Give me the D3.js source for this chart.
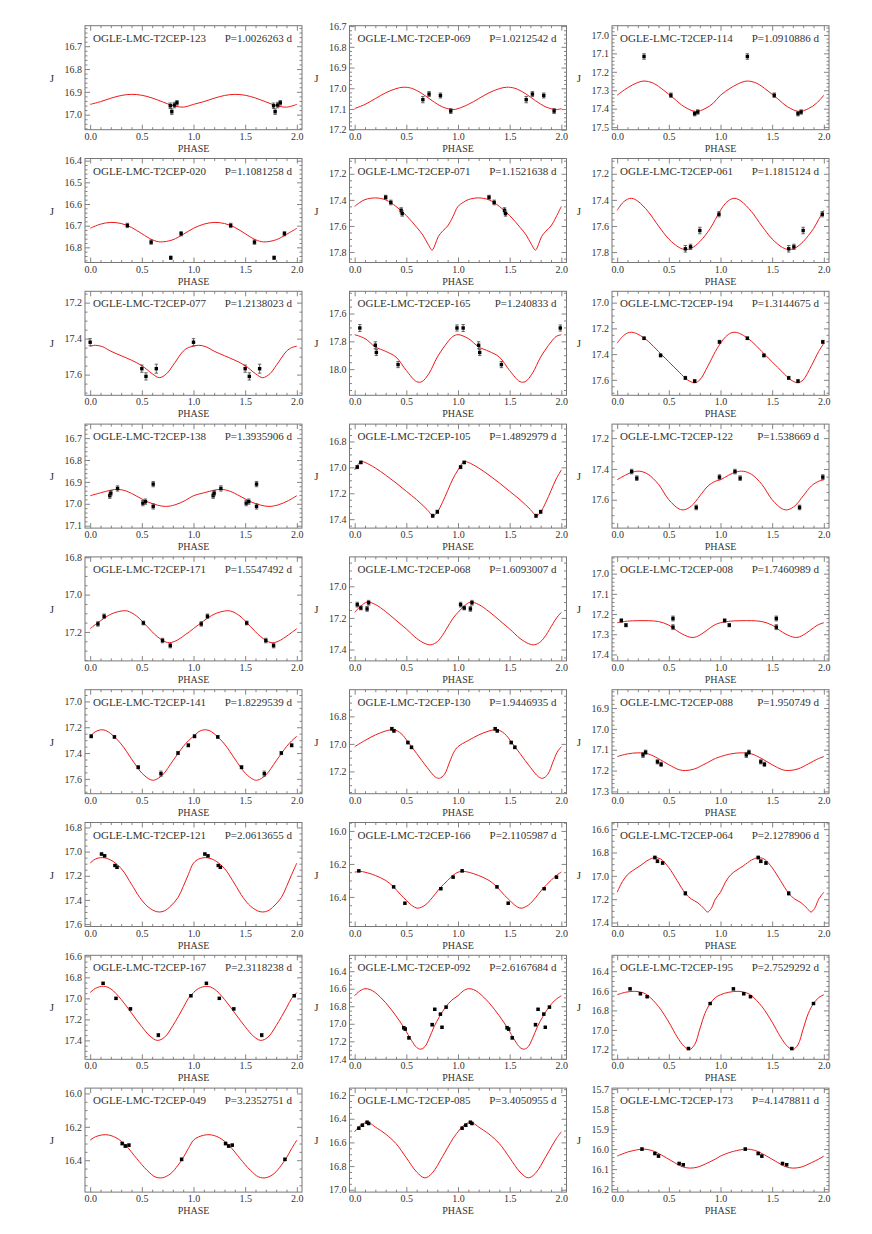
<!DOCTYPE html>
<html>
<head>
<meta charset="utf-8">
<script src="https://cdn.jsdelivr.net/npm/d3@7"></script>
<style>
body { margin: 0; background: #fff; }
svg { display: block; }
</style>
</head>
<body>
<svg width="872" height="1234"></svg>
<script>
// star ids, periods and the magnitude window of each panel (top = bright end)
const starIds = ["123","069","114","020","071","061","077","165","194","138","105","122","171","068","008",
  "141","130","088","121","166","064","167","092","195","049","085","173"];
const periods = ["1.0026263","1.0212542","1.0910886","1.1081258","1.1521638","1.1815124","1.2138023","1.240833",
  "1.3144675","1.3935906","1.4892979","1.538669","1.5547492","1.6093007","1.7460989","1.8229539","1.9446935",
  "1.950749","2.0613655","2.1105987","2.1278906","2.3118238","2.6167684","2.7529292","3.2352751","3.4050955","4.1478811"];
const magTop = [16.61,16.698,16.95,16.39,17.083,17.083,17.137,17.44,16.912,16.636,16.666,17.109,16.798,16.814,16.917,
  16.909,16.606,16.812,16.759,15.949,16.543,16.59,16.219,16.237,15.968,16.141,15.695];
const magBottom = [17.066,17.2,17.514,16.87,17.88,17.88,17.715,18.188,17.72,17.111,17.469,17.784,17.355,17.472,17.432,
  17.715,17.362,17.311,17.62,16.579,17.434,17.58,17.405,17.3,16.591,17.02,16.215];
const tickSteps = [0.1,0.1,0.1,0.1,0.2,0.2,0.2,0.2,0.2,0.1,0.2,0.2,0.2,0.2,0.1,0.2,0.2,0.1,0.2,0.2,0.2,0.2,0.2,0.2,0.2,0.2,0.1];

// fitted light curve, one cycle [phase, J]
const curveSamples = [
  [[0,16.955],[0.1,16.943],[0.2,16.928],[0.3,16.916],[0.4,16.911],[0.5,16.915],[0.6,16.927],[0.7,16.944],[0.8,16.96],[0.9,16.967]],
  [[0,17.098],[0.1,17.078],[0.2,17.05],[0.3,17.022],[0.4,17.002],[0.47,16.995],[0.55,17.0],[0.65,17.025],[0.75,17.06],[0.85,17.09],[0.95,17.103]],
  [[0,17.327],[0.1,17.287],[0.2,17.258],[0.26,17.25],[0.35,17.262],[0.45,17.3],[0.55,17.345],[0.65,17.39],[0.76,17.415],[0.85,17.4],[0.93,17.37]],
  [[0,16.712],[0.1,16.693],[0.2,16.685],[0.3,16.69],[0.4,16.708],[0.5,16.737],[0.6,16.765],[0.68,16.775],[0.8,16.765],[0.9,16.74]],
  [[0,17.45],[0.05,17.42],[0.1,17.398],[0.2,17.385],[0.3,17.4],[0.4,17.45],[0.5,17.52],[0.6,17.61],[0.66,17.67],[0.71,17.74],[0.75,17.785],[0.78,17.74],[0.81,17.68],[0.85,17.64],[0.9,17.6],[0.95,17.53]],
  [[0,17.48],[0.05,17.425],[0.1,17.395],[0.14,17.388],[0.2,17.41],[0.3,17.49],[0.4,17.6],[0.5,17.7],[0.6,17.765],[0.66,17.78],[0.72,17.77],[0.8,17.72],[0.9,17.62],[0.95,17.55]],
  [[0,17.442],[0.05,17.437],[0.12,17.445],[0.2,17.47],[0.3,17.495],[0.4,17.52],[0.5,17.55],[0.6,17.595],[0.67,17.617],[0.74,17.595],[0.8,17.55],[0.9,17.47],[0.95,17.45]],
  [[0,17.752],[0.1,17.78],[0.2,17.84],[0.3,17.872],[0.4,17.913],[0.5,18.01],[0.6,18.09],[0.65,18.09],[0.72,18.03],[0.8,17.913],[0.9,17.805],[0.95,17.765]],
  [[0,17.315],[0.05,17.265],[0.1,17.236],[0.14,17.23],[0.2,17.245],[0.3,17.3],[0.4,17.38],[0.5,17.46],[0.6,17.54],[0.68,17.6],[0.75,17.622],[0.8,17.6],[0.88,17.49],[0.95,17.38]],
  [[0,16.963],[0.1,16.95],[0.2,16.938],[0.27,16.934],[0.35,16.942],[0.45,16.965],[0.55,16.99],[0.65,17.006],[0.73,17.012],[0.82,17.005],[0.92,16.985]],
  [[0,17.02],[0.06,16.955],[0.1,16.962],[0.2,17.005],[0.3,17.06],[0.4,17.12],[0.5,17.185],[0.6,17.25],[0.7,17.325],[0.76,17.374],[0.8,17.345],[0.85,17.27],[0.9,17.18],[0.95,17.09]],
  [[0,17.47],[0.08,17.44],[0.15,17.42],[0.22,17.415],[0.3,17.435],[0.4,17.5],[0.5,17.6],[0.6,17.66],[0.65,17.665],[0.72,17.64],[0.8,17.575],[0.88,17.51],[0.95,17.48]],
  [[0,17.182],[0.1,17.14],[0.2,17.105],[0.3,17.088],[0.36,17.088],[0.45,17.115],[0.55,17.17],[0.65,17.225],[0.75,17.257],[0.82,17.25],[0.92,17.215]],
  [[0,17.165],[0.06,17.125],[0.12,17.1],[0.2,17.115],[0.3,17.16],[0.4,17.215],[0.5,17.27],[0.6,17.33],[0.68,17.362],[0.74,17.37],[0.8,17.35],[0.85,17.31],[0.92,17.235],[0.96,17.195]],
  [[0,17.243],[0.1,17.235],[0.2,17.233],[0.3,17.233],[0.4,17.237],[0.5,17.255],[0.6,17.29],[0.7,17.314],[0.75,17.315],[0.82,17.298],[0.9,17.268],[0.95,17.252]],
  [[0,17.27],[0.05,17.235],[0.1,17.22],[0.15,17.225],[0.2,17.25],[0.3,17.33],[0.4,17.445],[0.5,17.555],[0.58,17.605],[0.62,17.61],[0.7,17.57],[0.8,17.46],[0.9,17.35],[0.95,17.305]],
  [[0,17.02],[0.1,16.975],[0.2,16.935],[0.3,16.906],[0.38,16.897],[0.45,16.925],[0.52,16.99],[0.6,17.07],[0.7,17.17],[0.78,17.24],[0.82,17.25],[0.87,17.22],[0.92,17.13],[0.96,17.06]],
  [[0,17.133],[0.1,17.12],[0.2,17.115],[0.3,17.12],[0.4,17.143],[0.5,17.172],[0.6,17.196],[0.66,17.2],[0.75,17.192],[0.85,17.168],[0.95,17.142]],
  [[0,17.095],[0.05,17.062],[0.12,17.05],[0.2,17.07],[0.3,17.14],[0.4,17.27],[0.48,17.38],[0.55,17.45],[0.62,17.49],[0.67,17.5],[0.72,17.49],[0.78,17.45],[0.85,17.38],[0.9,17.29],[0.95,17.19]],
  [[0,16.25],[0.05,16.245],[0.1,16.25],[0.2,16.27],[0.3,16.3],[0.37,16.335],[0.45,16.39],[0.5,16.42],[0.55,16.45],[0.61,16.468],[0.68,16.45],[0.75,16.405],[0.82,16.35],[0.9,16.3],[0.95,16.27]],
  [[0,17.14],[0.05,17.05],[0.1,16.99],[0.15,16.955],[0.22,16.915],[0.3,16.865],[0.36,16.845],[0.42,16.855],[0.5,16.93],[0.58,17.04],[0.66,17.15],[0.72,17.2],[0.78,17.23],[0.84,17.28],[0.875,17.31],[0.91,17.28],[0.95,17.2]],
  [[0,16.945],[0.05,16.905],[0.13,16.885],[0.2,16.91],[0.3,17.01],[0.4,17.14],[0.5,17.27],[0.58,17.36],[0.65,17.4],[0.72,17.37],[0.8,17.26],[0.9,17.09],[0.95,17.0]],
  [[0,16.68],[0.05,16.625],[0.1,16.6],[0.15,16.61],[0.2,16.645],[0.3,16.76],[0.4,16.91],[0.48,17.05],[0.55,17.19],[0.6,17.27],[0.64,17.29],[0.68,17.26],[0.72,17.17],[0.77,17.03],[0.82,16.92],[0.88,16.81],[0.94,16.73]],
  [[0,16.64],[0.08,16.615],[0.17,16.605],[0.25,16.62],[0.3,16.65],[0.4,16.76],[0.5,16.92],[0.58,17.07],[0.65,17.17],[0.7,17.2],[0.75,17.15],[0.8,16.99],[0.85,16.83],[0.9,16.73],[0.95,16.67]],
  [[0,16.28],[0.05,16.26],[0.15,16.247],[0.25,16.265],[0.35,16.315],[0.45,16.39],[0.55,16.46],[0.63,16.5],[0.7,16.505],[0.78,16.48],[0.85,16.43],[0.9,16.385],[0.95,16.33]],
  [[0,16.51],[0.05,16.46],[0.1,16.435],[0.15,16.44],[0.2,16.47],[0.3,16.53],[0.4,16.61],[0.5,16.73],[0.6,16.85],[0.68,16.9],[0.75,16.86],[0.85,16.72],[0.95,16.57]],
  [[0,16.035],[0.1,16.015],[0.2,16.003],[0.25,16.0],[0.33,16.006],[0.43,16.03],[0.53,16.06],[0.63,16.088],[0.7,16.095],[0.78,16.09],[0.88,16.068],[0.95,16.05]]
];

// observations [phase, J, error]
const obsPoints = [
  [[0.775,16.961,0.012],[0.79,16.987,0.012],[0.815,16.958,0.012],[0.84,16.948,0.01]],
  [[0.66,17.055,0.015],[0.72,17.028,0.012],[0.83,17.035,0.012],[0.93,17.11,0.012]],
  [[0.26,17.117,0.015],[0.52,17.327,0.012],[0.75,17.427,0.012],[0.78,17.418,0.012]],
  [[0.36,16.699,0.01],[0.59,16.776,0.01],[0.78,16.848,0.008],[0.88,16.737,0.01]],
  [[0.3,17.38,0.015],[0.35,17.42,0.018],[0.45,17.48,0.02],[0.46,17.505,0.02]],
  [[0.66,17.775,0.025],[0.71,17.76,0.02],[0.8,17.635,0.025],[0.985,17.51,0.02]],
  [[0,17.42,0.02],[0.5,17.567,0.02],[0.54,17.61,0.02],[0.64,17.567,0.025]],
  [[0.05,17.704,0.025],[0.2,17.828,0.025],[0.21,17.88,0.022],[0.42,17.967,0.022],[0.99,17.704,0.022]],
  [[0.26,17.277,0.01],[0.42,17.41,0.012],[0.66,17.585,0.012],[0.75,17.61,0.012],[0.99,17.305,0.012]],
  [[0.19,16.963,0.012],[0.2,16.951,0.012],[0.265,16.93,0.012],[0.51,16.997,0.012],[0.535,16.99,0.012],[0.61,16.91,0.012],[0.61,17.012,0.012]],
  [[0.025,16.998,0.012],[0.06,16.962,0.01],[0.755,17.374,0.012],[0.8,17.343,0.012]],
  [[0.14,17.417,0.015],[0.19,17.46,0.015],[0.765,17.65,0.015],[0.99,17.453,0.015]],
  [[0.075,17.157,0.012],[0.135,17.116,0.012],[0.515,17.152,0.01],[0.7,17.246,0.012],[0.775,17.273,0.012]],
  [[0.025,17.116,0.015],[0.06,17.137,0.012],[0.12,17.143,0.015],[0.135,17.104,0.015]],
  [[0.04,17.232,0.008],[0.085,17.255,0.008],[0.54,17.222,0.012],[0.54,17.265,0.012]],
  [[0.01,17.27,0.012],[0.235,17.275,0.01],[0.465,17.51,0.012],[0.685,17.56,0.02],[0.85,17.4,0.012],[0.95,17.34,0.012]],
  [[0.36,16.89,0.01],[0.38,16.905,0.01],[0.515,16.99,0.01],[0.55,17.025,0.01]],
  [[0.25,17.125,0.012],[0.275,17.112,0.01],[0.39,17.158,0.01],[0.425,17.17,0.01]],
  [[0.11,17.02,0.008],[0.14,17.035,0.008],[0.24,17.115,0.008],[0.26,17.13,0.008]],
  [[0.04,16.242,0.006],[0.377,16.339,0.006],[0.486,16.438,0.006],[0.834,16.35,0.006],[0.953,16.28,0.006]],
  [[0.365,16.843,0.012],[0.39,16.875,0.012],[0.44,16.89,0.012],[0.66,17.15,0.015]],
  [[0.125,16.857,0.01],[0.25,17.0,0.01],[0.39,17.1,0.01],[0.66,17.35,0.015],[0.975,16.975,0.01]],
  [[0.475,17.045,0.015],[0.49,17.06,0.015],[0.525,17.16,0.015],[0.75,17.01,0.015],[0.775,16.835,0.012],[0.83,16.89,0.012],[0.845,17.04,0.012],[0.885,16.81,0.012]],
  [[0.125,16.58,0.01],[0.225,16.63,0.01],[0.29,16.66,0.01],[0.69,17.19,0.012],[0.9,16.73,0.01]],
  [[0.31,16.3,0.008],[0.34,16.315,0.008],[0.375,16.31,0.008],[0.885,16.395,0.008]],
  [[0.04,16.48,0.01],[0.075,16.455,0.01],[0.12,16.43,0.01],[0.135,16.44,0.01]],
  [[0.24,16.0,0.006],[0.365,16.022,0.006],[0.4,16.035,0.006],[0.6,16.072,0.006],[0.64,16.078,0.006]]
];

const phaseMajor = [0, 0.5, 1, 1.5, 2];
const phaseMinor = d3.range(0, 2.01, 0.1).map(v => Math.round(v * 10) / 10).filter(v => !phaseMajor.includes(v));

const colLeft = [85, 349.5, 612];
const rowTop = 25.7, rowGap = 132.8;
const panelW = 217, panelH = 104;
const frameColor = "#777", inkColor = "#333";
const font = "'Liberation Serif', 'DejaVu Serif', serif";

const svg = d3.select("svg");
svg.append("rect").attr("width", 872).attr("height", 1234).attr("fill", "#fff");

starIds.forEach((id, i) => drawPanel(i));

function magTicks(i) {
  const step = tickSteps[i];
  const sub = step === 0.2 ? 4 : 5;
  const mstep = step / sub;
  const lo = magTop[i], hi = magBottom[i];
  const major = [], minor = [];
  for (let k = Math.ceil(lo / mstep - 1e-6); k * mstep <= hi + 1e-6; k++) {
    const v = Math.round(k * mstep * 1000) / 1000;
    if (Math.abs(v / step - Math.round(v / step)) < 1e-6) major.push(v);
    else minor.push(v);
  }
  return {major, minor};
}

function styleAxis(sel) {
  sel.select(".domain").remove();
  sel.selectAll(".tick line").attr("stroke", frameColor).attr("stroke-width", 0.9);
  sel.selectAll("text").attr("fill", inkColor).attr("font-family", font).attr("font-size", 10);
}

function drawPanel(i) {
  const left = colLeft[i % 3];
  const top = rowTop + rowGap * Math.floor(i / 3);
  const g = svg.append("g").attr("transform", `translate(${left},${top})`);

  const x = d3.scaleLinear([-0.05, 2.05], [0, panelW]);
  const y = d3.scaleLinear([magTop[i], magBottom[i]], [0, panelH]);
  const mt = magTicks(i);
  const fmt = d3.format(".1f");

  // inward ticks on all four sides
  g.append("g").attr("transform", `translate(0,${panelH})`)
    .call(d3.axisBottom(x).tickValues(phaseMajor).tickSize(-5).tickPadding(3).tickFormat(fmt)).call(styleAxis);
  g.append("g").attr("transform", `translate(0,${panelH})`)
    .call(d3.axisBottom(x).tickValues(phaseMinor).tickSize(-2.5).tickFormat("")).call(styleAxis);
  g.append("g")
    .call(d3.axisTop(x).tickValues(phaseMajor).tickSize(-5).tickFormat("")).call(styleAxis);
  g.append("g")
    .call(d3.axisTop(x).tickValues(phaseMinor).tickSize(-2.5).tickFormat("")).call(styleAxis);
  g.append("g")
    .call(d3.axisLeft(y).tickValues(mt.major).tickSize(-5).tickPadding(3).tickFormat(fmt)).call(styleAxis);
  g.append("g")
    .call(d3.axisLeft(y).tickValues(mt.minor).tickSize(-2.5).tickFormat("")).call(styleAxis);
  g.append("g").attr("transform", `translate(${panelW},0)`)
    .call(d3.axisRight(y).tickValues(mt.major).tickSize(-5).tickFormat("")).call(styleAxis);
  g.append("g").attr("transform", `translate(${panelW},0)`)
    .call(d3.axisRight(y).tickValues(mt.minor).tickSize(-2.5).tickFormat("")).call(styleAxis);

  g.append("rect").attr("width", panelW).attr("height", panelH)
    .attr("fill", "none").attr("stroke", frameColor).attr("stroke-width", 1);

  // curve, shown over two cycles
  const base = curveSamples[i];
  const pts = [];
  for (let k = 0; k < 2; k++) base.forEach(d => pts.push([d[0] + k, d[1]]));
  pts.push([2, base[0][1]]);
  const line = d3.line().x(d => x(d[0])).y(d => y(d[1])).curve(d3.curveCatmullRom.alpha(0.5));
  g.append("path").attr("d", line(pts)).attr("fill", "none").attr("stroke", "#f01818").attr("stroke-width", 1);

  const obs = [];
  for (let k = 0; k < 2; k++) obsPoints[i].forEach(d => { if (d[0] + k <= 2) obs.push([d[0] + k, d[1], d[2]]); });

  const pg = g.selectAll("g.obs").data(obs).enter().append("g").attr("class", "obs");
  pg.append("line")
    .attr("x1", d => x(d[0])).attr("x2", d => x(d[0]))
    .attr("y1", d => y(d[1] - d[2])).attr("y2", d => y(d[1] + d[2]))
    .attr("stroke", "#444").attr("stroke-width", 0.8);
  pg.append("line")
    .attr("x1", d => x(d[0]) - 1.7).attr("x2", d => x(d[0]) + 1.7)
    .attr("y1", d => y(d[1] - d[2])).attr("y2", d => y(d[1] - d[2]))
    .attr("stroke", "#444").attr("stroke-width", 0.8);
  pg.append("line")
    .attr("x1", d => x(d[0]) - 1.7).attr("x2", d => x(d[0]) + 1.7)
    .attr("y1", d => y(d[1] + d[2])).attr("y2", d => y(d[1] + d[2]))
    .attr("stroke", "#444").attr("stroke-width", 0.8);
  pg.append("rect")
    .attr("x", d => x(d[0]) - 1.7).attr("y", d => y(d[1]) - 1.7)
    .attr("width", 3.4).attr("height", 3.4).attr("fill", "#000");

  g.append("text").attr("x", 8).attr("y", 16)
    .attr("font-family", font).attr("font-size", 11).attr("fill", inkColor)
    .text(`OGLE-LMC-T2CEP-${starIds[i]}`);
  g.append("text").attr("x", 207).attr("y", 16).attr("text-anchor", "end")
    .attr("font-family", font).attr("font-size", 11).attr("fill", inkColor)
    .text(`P=${periods[i]} d`);

  g.append("text").attr("x", -33).attr("y", panelH / 2 + 4).attr("text-anchor", "middle")
    .attr("font-family", font).attr("font-size", 11).attr("fill", inkColor).text("J");
  g.append("text").attr("x", panelW / 2).attr("y", panelH + 22).attr("text-anchor", "middle")
    .attr("font-family", font).attr("font-size", 10).attr("fill", inkColor).text("PHASE");
}
</script>
</body>
</html>
